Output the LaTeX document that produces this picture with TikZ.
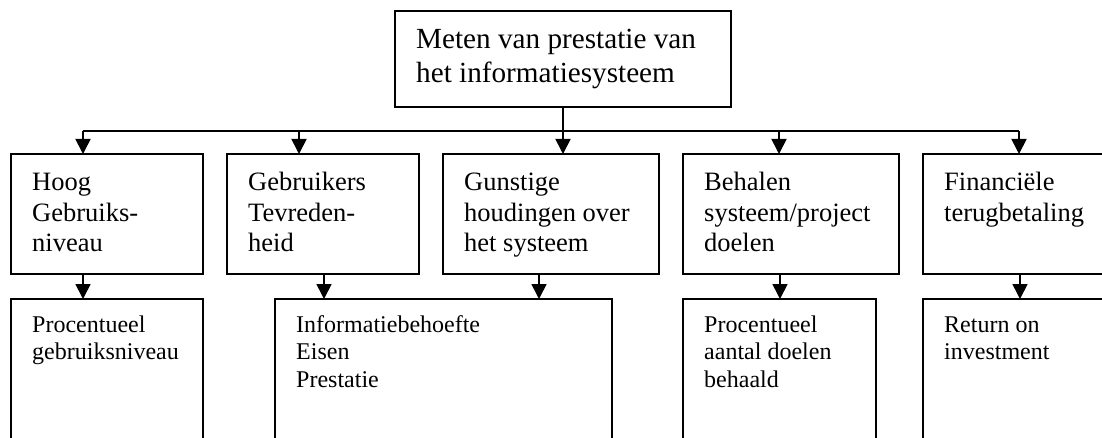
\documentclass[tikz,border=0pt]{standalone}
\usepackage{fontspec}
\setmainfont{Liberation Serif}
\usetikzlibrary{arrows.meta}
\begin{document}
\begin{tikzpicture}[x=1pt,y=-1pt,
  box/.style={draw, line width=1.7pt, inner sep=0pt, outer sep=0pt, anchor=north west},
  link/.style={line width=1.7pt},
  arr/.style={line width=1.7pt, -{Triangle[length=15pt,width=15pt]}},
  toptxt/.style={anchor=base west, inner sep=0pt, font=\fontsize{29.2}{33.8}\selectfont},
  midtxt/.style={anchor=base west, inner sep=0pt, font=\fontsize{26.5}{30.7}\selectfont},
  lowtxt/.style={anchor=base west, inner sep=0pt, font=\fontsize{24}{27.5}\selectfont},
]
\useasboundingbox (0,0) rectangle (1102,438);
\clip (0,0) rectangle (1102,438);

% top box
\node[box, minimum width=336pt, minimum height=96pt] (top) at (395,11) {};
\node[toptxt] at ([shift={(21,38)}]top.north west)
  {\vtop{\hbox{Meten van prestatie van}\hbox{het informatiesysteem}}};

% middle row
\node[box, minimum width=192pt, minimum height=120pt] (m1) at (11,154) {};
\node[box, minimum width=192pt, minimum height=120pt] (m2) at (227,154) {};
\node[box, minimum width=216pt, minimum height=120pt] (m3) at (443,154) {};
\node[box, minimum width=216pt, minimum height=120pt] (m4) at (683,154) {};
\node[box, minimum width=230pt, minimum height=120pt] (m5) at (923,154) {};

\node[midtxt] at ([shift={(21,36.5)}]m1.north west)
  {\vtop{\hbox{Hoog}\hbox{Gebruiks-}\hbox{niveau}}};
\node[midtxt] at ([shift={(21,36.5)}]m2.north west)
  {\vtop{\hbox{Gebruikers}\hbox{Tevreden-}\hbox{heid}}};
\node[midtxt] at ([shift={(21,36.5)}]m3.north west)
  {\vtop{\hbox{Gunstige}\hbox{houdingen over}\hbox{het systeem}}};
\node[midtxt] at ([shift={(21,36.5)}]m4.north west)
  {\vtop{\hbox{Behalen}\hbox{systeem/project}\hbox{doelen}}};
\node[midtxt] at ([shift={(21,36.5)}]m5.north west)
  {\vtop{\hbox{Financiële}\hbox{terugbetaling}}};

% bottom row (runs past the lower edge)
\node[box, minimum width=192pt, minimum height=180pt] (b1) at (11,299) {};
\node[box, minimum width=337pt, minimum height=180pt] (b2) at (275,299) {};
\node[box, minimum width=193pt, minimum height=180pt] (b3) at (683,299) {};
\node[box, minimum width=230pt, minimum height=180pt] (b4) at (923,299) {};

\node[lowtxt] at ([shift={(21,33)}]b1.north west)
  {\vtop{\hbox{Procentueel}\hbox{gebruiksniveau}}};
\node[lowtxt] at ([shift={(21,33)}]b2.north west)
  {\vtop{\hbox{Informatiebehoefte}\hbox{Eisen}\hbox{Prestatie}}};
\node[lowtxt] at ([shift={(21,33)}]b3.north west)
  {\vtop{\hbox{Procentueel}\hbox{aantal doelen}\hbox{behaald}}};
\node[lowtxt] at ([shift={(21,33)}]b4.north west)
  {\vtop{\hbox{Return on}\hbox{investment}}};

% distribution bar below the top box
\coordinate (busL) at (83,131);
\coordinate (busR) at (1019,131);
\coordinate (d2) at (299,131);
\coordinate (d4) at (779,131);
\draw[link] (busL) -- (busR);
\draw[arr] (busL) -- (busL |- m1.north);
\draw[arr] (d2) -- (d2 |- m2.north);
\draw[arr] (top.south) -- (top.south |- m3.north);
\draw[arr] (d4) -- (d4 |- m4.north);
\draw[arr] (busR) -- (busR |- m5.north);

% drops from the middle row to the bottom row
\coordinate (a1) at ([xshift=72pt]m1.south west);
\coordinate (a2) at ([xshift=97pt]m2.south west);
\coordinate (a3) at ([xshift=96pt]m3.south west);
\coordinate (a4) at ([xshift=97pt]m4.south west);
\coordinate (a5) at ([xshift=97pt]m5.south west);
\draw[arr] (a1) -- (a1 |- b1.north);
\draw[arr] (a2) -- (a2 |- b2.north);
\draw[arr] (a3) -- (a3 |- b2.north);
\draw[arr] (a4) -- (a4 |- b3.north);
\draw[arr] (a5) -- (a5 |- b4.north);
\end{tikzpicture}
\end{document}
